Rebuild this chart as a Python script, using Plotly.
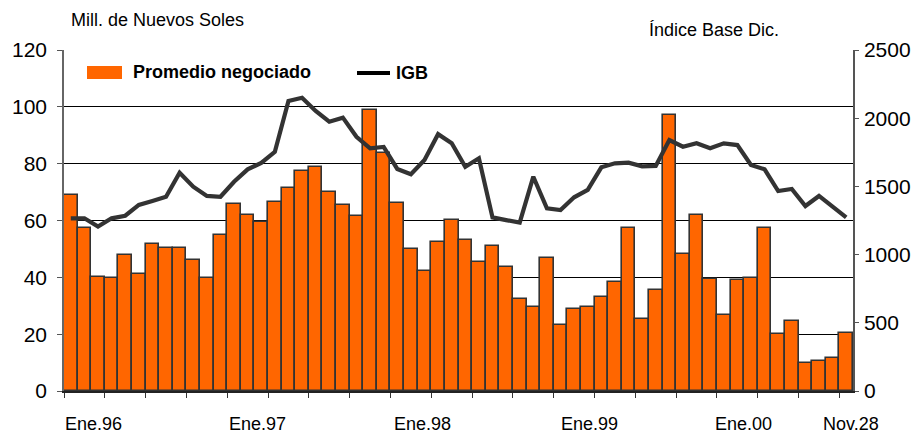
import plotly.graph_objects as go

# ---- data ----
promedio = [68.9, 57.4, 40.1, 39.9, 48.0, 41.2, 51.7, 50.3, 50.4, 46.1, 39.9, 54.8,
            65.7, 61.8, 59.6, 66.6, 71.3, 77.5, 79.0, 70.2, 65.5, 61.5, 98.9, 83.6,
            66.0, 50.0, 42.4, 52.4, 60.1, 53.3, 45.4, 51.1, 43.8, 32.3, 29.7, 46.7,
            23.2, 28.7, 29.7, 33.0, 38.2, 57.4, 25.5, 35.6, 97.2, 48.1, 61.8, 39.4,
            26.8, 38.9, 39.9, 57.5, 20.0, 24.6, 9.8, 10.6, 11.7, 20.4]
igb = [1266, 1266, 1205, 1266, 1285, 1364, 1393, 1424, 1600, 1498, 1430, 1424,
       1534, 1625, 1672, 1754, 2126, 2150, 2053, 1974, 2004, 1864, 1779, 1789,
       1628, 1589, 1693, 1883, 1816, 1644, 1706, 1273, 1253, 1234, 1571, 1339,
       1327, 1420, 1474, 1640, 1669, 1674, 1647, 1650, 1840, 1791, 1816, 1779,
       1816, 1803, 1657, 1625, 1466, 1481, 1356, 1430, 1351, 1273]
x_labels = ["Ene.96", "Ene.97", "Ene.98", "Ene.99", "Ene.00", "Nov.28"]
x_label_pos = [1.69, 13.72, 25.82, 38.15, 49.43, 57.34]
left_ticks = [0, 20, 40, 60, 80, 100, 120]
right_ticks = [0, 500, 1000, 1500, 2000, 2500]

idx = list(range(len(promedio)))
FONT = "Arial, Liberation Sans, sans-serif"
ORANGE = "#FF6600"
W, H = 920, 434
ML, MR, MT, MB = 64, 67, 50, 43
PW, PH = W - ML - MR, H - MT - MB

def px(xp):
    return (xp - ML) / PW

def py(yp):
    return (H - MB - yp) / PH

fig = go.Figure()
fig.add_trace(go.Bar(x=idx, y=promedio, name="Promedio negociado",
                     marker=dict(color=ORANGE, line=dict(color="#333333", width=1.6)),
                     showlegend=False))
fig.add_trace(go.Scatter(x=idx, y=igb, name="IGB", yaxis="y2", mode="lines",
                         line=dict(color="#333333", width=4.2), showlegend=False))

annotations = []
for lab, pos in zip(x_labels, x_label_pos):
    annotations.append(dict(x=pos, y=py(424), xref="x", yref="paper", text=lab,
                            showarrow=False, xanchor="center", yanchor="middle",
                            font=dict(family=FONT, size=18, color="black")))
annotations += [
    dict(x=px(69), y=py(20), xref="paper", yref="paper", text="Mill. de Nuevos Soles",
         showarrow=False, xanchor="left", yanchor="middle",
         font=dict(family=FONT, size=18, color="black")),
    dict(x=px(647), y=py(30), xref="paper", yref="paper", text="Índice Base Dic.",
         showarrow=False, xanchor="left", yanchor="middle",
         font=dict(family=FONT, size=18, color="black")),
    dict(x=px(131), y=py(72), xref="paper", yref="paper", text="<b>Promedio negociado</b>",
         showarrow=False, xanchor="left", yanchor="middle",
         font=dict(family=FONT, size=18, color="black")),
    dict(x=px(394), y=py(73), xref="paper", yref="paper", text="<b>IGB</b>",
         showarrow=False, xanchor="left", yanchor="middle",
         font=dict(family=FONT, size=18, color="black")),
]

shapes = [
    dict(type="rect", xref="paper", yref="paper", x0=px(87), x1=px(122), y0=py(79), y1=py(66),
         fillcolor=ORANGE, line=dict(width=0)),
    dict(type="line", xref="paper", yref="paper", x0=px(357), x1=px(390), y0=py(73), y1=py(73),
         line=dict(color="black", width=4)),
]

fig.update_layout(
    width=W, height=H, autosize=False,
    showlegend=False,
    margin=dict(l=ML, r=MR, t=MT, b=MB, pad=0, autoexpand=False),
    paper_bgcolor="white", plot_bgcolor="white",
    bargap=0,
    font=dict(family=FONT, color="black"),
    xaxis=dict(range=[-0.5, len(promedio) - 0.5], tickmode="array",
               tickvals=[i - 0.5 for i in range(0, len(promedio) + 1, 3)],
               showticklabels=False, ticks="outside", ticklen=5, tickcolor="#333333",
               showgrid=False, showline=True, linecolor="#222222", linewidth=2,
               zeroline=False, fixedrange=True, automargin=False),
    yaxis=dict(range=[0, 120], tickmode="array", tickvals=left_ticks,
               ticks="outside", ticklen=5, tickcolor="#555555",
               showgrid=True, gridcolor="black", gridwidth=1,
               showline=True, linecolor="#666666", linewidth=1.5,
               zeroline=False, tickfont=dict(family=FONT, size=21, color="black"),
               ticklabelstandoff=6, automargin=False, fixedrange=True),
    yaxis2=dict(range=[0, 2500], tickmode="array", tickvals=right_ticks,
                overlaying="y", side="right", ticks="outside", ticklen=4,
                tickcolor="#555555", showgrid=False,
                showline=True, linecolor="#555555", linewidth=1.5, zeroline=False,
                tickfont=dict(family=FONT, size=21, color="black"),
                ticklabelstandoff=1, automargin=False, fixedrange=True),
    annotations=annotations,
    shapes=shapes,
)

fig.write_html("out.html", config={"displayModeBar": False, "responsive": False},
               post_script="document.body.style.margin='0';document.body.style.overflow='hidden';")
